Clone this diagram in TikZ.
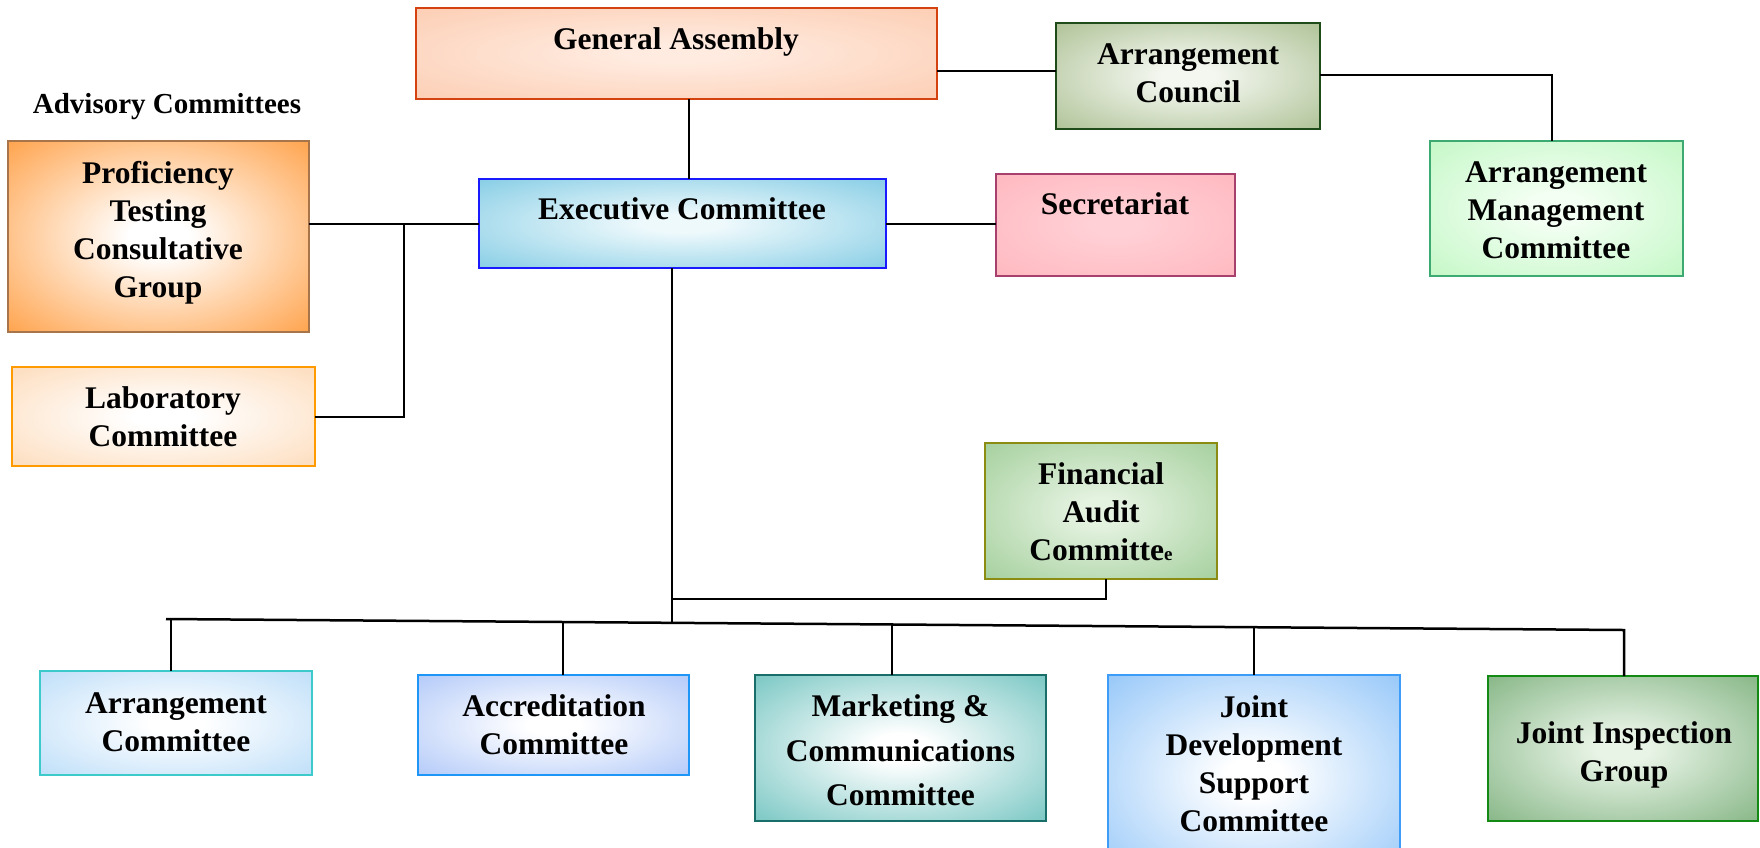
\documentclass[tikz,border=0pt]{standalone}
\usepackage{fontspec}
\setmainfont{Liberation Serif}
\usetikzlibrary{calc}
\colorlet{boxin}{white}
\colorlet{boxout}{gray}
\pgfdeclareradialshading[boxin,boxout]{boxglow}{\pgfpoint{0bp}{0bp}}{color(0bp)=(boxin); color(5bp)=(boxin); color(40bp)=(boxout); color(50bp)=(boxout)}
\definecolor{gaE}{HTML}{FCCAAE}\definecolor{gaC}{HTML}{FFEBE0}\definecolor{gaB}{HTML}{D4420F}
\definecolor{aclE}{HTML}{A5BB8A}\definecolor{aclC}{HTML}{F4F7F0}\definecolor{aclB}{HTML}{1F4A1A}
\definecolor{ptE}{HTML}{FF9633}\definecolor{ptC}{HTML}{FFFFFF}\definecolor{ptB}{HTML}{A8744A}
\definecolor{ecE}{HTML}{78C7E2}\definecolor{ecC}{HTML}{EEF9FC}\definecolor{ecB}{HTML}{1A1AFF}
\definecolor{secE}{HTML}{FFB5BC}\definecolor{secC}{HTML}{FFD0D6}\definecolor{secB}{HTML}{A8406E}
\definecolor{amcE}{HTML}{BEF7C0}\definecolor{amcC}{HTML}{F4FFF4}\definecolor{amcB}{HTML}{3DAA72}
\definecolor{labE}{HTML}{FDD8B4}\definecolor{labC}{HTML}{FFFFFF}\definecolor{labB}{HTML}{FF9A00}
\definecolor{facE}{HTML}{9CCB94}\definecolor{facC}{HTML}{E4F2E0}\definecolor{facB}{HTML}{8C8C12}
\definecolor{arcE}{HTML}{B5DAF8}\definecolor{arcC}{HTML}{FFFFFF}\definecolor{arcB}{HTML}{3CCACA}
\definecolor{accE}{HTML}{A8C2F8}\definecolor{accC}{HTML}{FFFFFF}\definecolor{accB}{HTML}{1E96F8}
\definecolor{mktE}{HTML}{66BFBB}\definecolor{mktC}{HTML}{FFFFFF}\definecolor{mktB}{HTML}{1A6E6A}
\definecolor{jdE}{HTML}{88C0F8}\definecolor{jdC}{HTML}{FFFFFF}\definecolor{jdB}{HTML}{3C9CF8}
\definecolor{jigE}{HTML}{7AAE7A}\definecolor{jigC}{HTML}{E8F4E6}\definecolor{jigB}{HTML}{138A13}
\tikzset{
  cin/.code={\colorlet{boxin}{#1}},
  cout/.code={\colorlet{boxout}{#1}},
  orgbox/.style={rectangle, inner sep=0pt, outer sep=0pt, line width=2.5pt,
    draw=#1B, cin=#1C, cout=#1E, shade, shading=boxglow},
  lbl/.style={font=\bfseries\fontsize{31.5}{38}\selectfont, align=center, inner sep=0pt},
  conn/.style={draw=black, line width=2pt},
}
\begin{document}
\begin{tikzpicture}[x=1pt,y=-1pt]
\fill[white] (0,0) rectangle (1760,847);
\useasboundingbox (0,0) rectangle (1760,847);
% boxes
\node[orgbox=ga, minimum width=521pt, minimum height=91pt] (ga) at (676.5,53.5) {};
\node[orgbox=acl, minimum width=264pt, minimum height=106pt] (acl) at (1188,76) {};
\node[orgbox=pt, minimum width=301pt, minimum height=191pt] (ptcg) at (158.5,236.5) {};
\node[orgbox=ec, minimum width=407pt, minimum height=89pt] (ec) at (682.5,223.5) {};
\node[orgbox=sec, minimum width=239pt, minimum height=102pt] (sec) at (1115.5,225) {};
\node[orgbox=amc, minimum width=253pt, minimum height=135pt] (amc) at (1556.5,208.5) {};
\node[orgbox=lab, minimum width=303pt, minimum height=99pt] (lab) at (163.5,416.5) {};
\node[orgbox=fac, minimum width=232pt, minimum height=136pt] (fac) at (1101,511) {};
\node[orgbox=arc, minimum width=272pt, minimum height=104pt] (arc) at (176,723) {};
\node[orgbox=acc, minimum width=271pt, minimum height=100pt] (acc) at (553.5,725) {};
\node[orgbox=mkt, minimum width=291pt, minimum height=146pt] (mkt) at (900.5,748) {};
\node[orgbox=jd, minimum width=292pt, minimum height=205pt] (jdsc) at (1254,777.5) {};
\node[orgbox=jig, minimum width=270pt, minimum height=145pt] (jig) at (1623,748.5) {};
% labels
\node[lbl] (tga) at (676,41.5) {General Assembly};
\node[lbl] (tacl) at (1188,73) {Arrangement\\Council};
\node[lbl, font=\bfseries\fontsize{29}{35}\selectfont] (tadv) at (167,107) {Advisory Committees};
\node[lbl] (tpt) at (158,233) {Proficiency\\Testing\\Consultative\\Group};
\node[lbl] (tec) at (682,209) {Executive Committee};
\node[lbl] (tsec) at (1115,204) {Secretariat};
\node[lbl] (tamc) at (1556,210) {Arrangement\\Management\\Committee};
\node[lbl] (tlab) at (163,417) {Laboratory\\Committee};
\node[lbl] (tfac) at (1101,512) {Financial\\Audit\\Committe{\fontsize{19}{19}\selectfont e}};
\node[lbl] (tarc) at (176,722) {Arrangement\\Committee};
\node[lbl] (tacc) at (554,725) {Accreditation\\Committee};
\node[lbl, font=\bfseries\fontsize{31.5}{44.5}\selectfont] (tmkt) at (900.5,750.5) {Marketing \&\\Communications\\Committee};
\node[lbl] (tjd) at (1254,763.5) {Joint\\Development\\Support\\Committee};
\node[lbl] (tjig) at (1624,754.5) {Joint Inspection\\Group};
% helper coordinates
\coordinate (c1) at (689,0);
\coordinate (r1) at (0,71);
\coordinate (r2) at (1552,75);
\coordinate (v1) at (404,223.5);
\coordinate (busM) at (672,622.8);
\coordinate (f1) at (1106,599);
\coordinate (busL) at (166,619);
\coordinate (busR) at (1624,630);
\coordinate (d1) at (171,619.0);
\coordinate (d2) at (563,622.0);
\coordinate (d3) at (892,624.5);
\coordinate (d4) at (1254,627.2);
% connectors
\draw[conn] (c1 |- ga.south) -- (c1 |- ec.north);
\draw[conn] (r1 -| ga.east) -- (r1 -| acl.west);
\draw[conn] (r2 -| acl.east) -- (r2) -- (r2 |- amc.north);
\draw[conn] (ec.east) -- (ec.east -| sec.west);
\draw[conn] (ec.west -| ptcg.east) -- (ec.west);
\draw[conn] (v1) -- (v1 |- lab.east) -- (lab.east);
\draw[conn] (busM |- ec.south) -- (busM);
\draw[conn] (f1 |- fac.south) -- (f1) -- (f1 -| busM);
\draw[conn, line width=2.5pt] (busL) -- (busR) -- (busR |- jig.north);
\draw[conn] (d1) -- (d1 |- arc.north);
\draw[conn] (d2) -- (d2 |- acc.north);
\draw[conn] (d3) -- (d3 |- mkt.north);
\draw[conn] (d4) -- (d4 |- jdsc.north);
\end{tikzpicture}
\end{document}
